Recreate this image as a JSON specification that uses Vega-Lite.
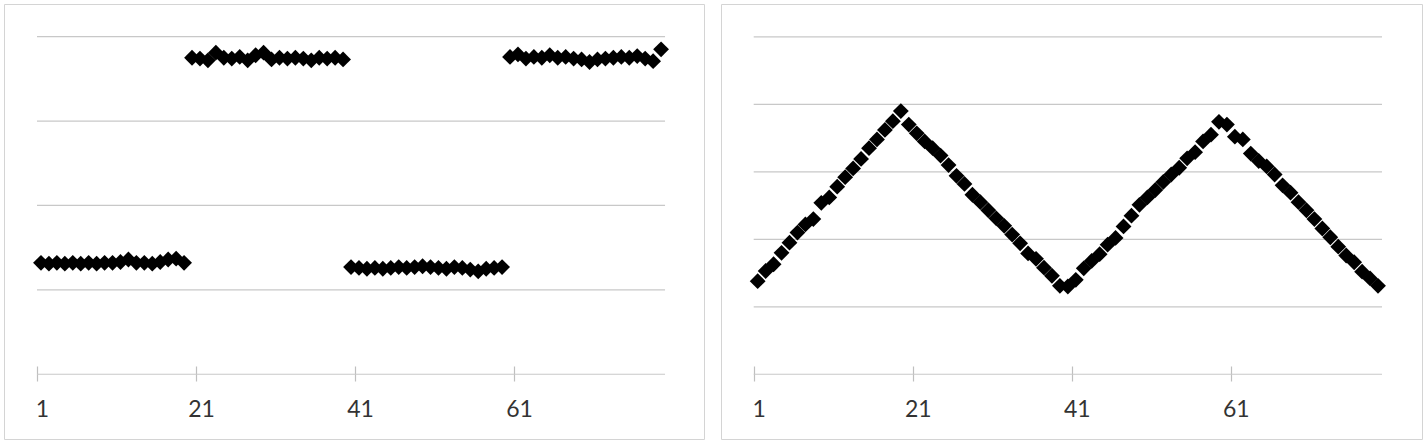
{
  "$schema": "https://vega.github.io/schema/vega-lite/v6.json",
  "padding": {"left": 3, "top": 3, "right": 0, "bottom": 0},
  "spacing": 15,
  "background": "white",
  "config": {
    "view": {"stroke": "#d4d4d4", "strokeWidth": 1},
    "axis": {"labelFont": "Lato", "labelFontSize": 23, "labelColor": "#333333"}
  },
  "datasets": {
    "pts": [
      {"x": 1, "a": 1.32, "b": 1.38}, {"x": 2, "a": 1.31, "b": 1.53}, {"x": 3, "a": 1.32, "b": 1.63},
      {"x": 4, "a": 1.31, "b": 1.80}, {"x": 5, "a": 1.32, "b": 1.95}, {"x": 6, "a": 1.31, "b": 2.10},
      {"x": 7, "a": 1.32, "b": 2.22}, {"x": 8, "a": 1.31, "b": 2.30}, {"x": 9, "a": 1.32, "b": 2.54},
      {"x": 10, "a": 1.32, "b": 2.62}, {"x": 11, "a": 1.33, "b": 2.78}, {"x": 12, "a": 1.36, "b": 2.92},
      {"x": 13, "a": 1.32, "b": 3.05}, {"x": 14, "a": 1.32, "b": 3.19}, {"x": 15, "a": 1.31, "b": 3.35},
      {"x": 16, "a": 1.33, "b": 3.48}, {"x": 17, "a": 1.36, "b": 3.62}, {"x": 18, "a": 1.37, "b": 3.75},
      {"x": 19, "a": 1.32, "b": 3.90}, {"x": 20, "a": 3.75, "b": 3.70}, {"x": 21, "a": 3.74, "b": 3.57},
      {"x": 22, "a": 3.72, "b": 3.45}, {"x": 23, "a": 3.81, "b": 3.35}, {"x": 24, "a": 3.75, "b": 3.24},
      {"x": 25, "a": 3.74, "b": 3.10}, {"x": 26, "a": 3.76, "b": 2.94}, {"x": 27, "a": 3.72, "b": 2.82},
      {"x": 28, "a": 3.78, "b": 2.66}, {"x": 29, "a": 3.81, "b": 2.55}, {"x": 30, "a": 3.73, "b": 2.43},
      {"x": 31, "a": 3.75, "b": 2.31}, {"x": 32, "a": 3.74, "b": 2.20}, {"x": 33, "a": 3.75, "b": 2.07},
      {"x": 34, "a": 3.74, "b": 1.94}, {"x": 35, "a": 3.72, "b": 1.79}, {"x": 36, "a": 3.75, "b": 1.71},
      {"x": 37, "a": 3.74, "b": 1.58}, {"x": 38, "a": 3.75, "b": 1.46}, {"x": 39, "a": 3.73, "b": 1.31},
      {"x": 40, "a": 1.27, "b": 1.30}, {"x": 41, "a": 1.26, "b": 1.40}, {"x": 42, "a": 1.25, "b": 1.57},
      {"x": 43, "a": 1.26, "b": 1.68}, {"x": 44, "a": 1.25, "b": 1.78}, {"x": 45, "a": 1.26, "b": 1.92},
      {"x": 46, "a": 1.27, "b": 2.02}, {"x": 47, "a": 1.26, "b": 2.19}, {"x": 48, "a": 1.27, "b": 2.35},
      {"x": 49, "a": 1.28, "b": 2.51}, {"x": 50, "a": 1.27, "b": 2.62}, {"x": 51, "a": 1.26, "b": 2.73},
      {"x": 52, "a": 1.25, "b": 2.85}, {"x": 53, "a": 1.27, "b": 2.96}, {"x": 54, "a": 1.26, "b": 3.06},
      {"x": 55, "a": 1.24, "b": 3.20}, {"x": 56, "a": 1.22, "b": 3.29}, {"x": 57, "a": 1.25, "b": 3.45},
      {"x": 58, "a": 1.26, "b": 3.55}, {"x": 59, "a": 1.27, "b": 3.74}, {"x": 60, "a": 3.76, "b": 3.70},
      {"x": 61, "a": 3.79, "b": 3.52}, {"x": 62, "a": 3.74, "b": 3.48}, {"x": 63, "a": 3.76, "b": 3.27},
      {"x": 64, "a": 3.75, "b": 3.16}, {"x": 65, "a": 3.78, "b": 3.08}, {"x": 66, "a": 3.75, "b": 2.96},
      {"x": 67, "a": 3.76, "b": 2.80}, {"x": 68, "a": 3.74, "b": 2.69}, {"x": 69, "a": 3.73, "b": 2.55},
      {"x": 70, "a": 3.70, "b": 2.43}, {"x": 71, "a": 3.73, "b": 2.30}, {"x": 72, "a": 3.74, "b": 2.16},
      {"x": 73, "a": 3.75, "b": 2.03}, {"x": 74, "a": 3.76, "b": 1.89}, {"x": 75, "a": 3.75, "b": 1.76},
      {"x": 76, "a": 3.77, "b": 1.66}, {"x": 77, "a": 3.74, "b": 1.52}, {"x": 78, "a": 3.71, "b": 1.42},
      {"x": 79, "a": 3.85, "b": 1.31}
    ],
    "gridL": [{"g": 0}, {"g": 1}, {"g": 2}, {"g": 3}, {"g": 4}],
    "gridR": [{"g": 0}, {"g": 1}, {"g": 2}, {"g": 3}, {"g": 4}, {"g": 5}]
  },
  "hconcat": [
    {
      "width": 700,
      "height": 435,
      "layer": [
        {
          "data": {"name": "gridL"},
          "mark": {"type": "rule", "color": "#c8c8c8", "strokeWidth": 1.2},
          "encoding": {
            "y": {"field": "g", "type": "quantitative", "scale": {"domain": [-0.767, 4.387], "nice": false, "zero": false}, "axis": null},
            "x": {"datum": 0.5, "type": "quantitative"},
            "x2": {"datum": 79.5}
          }
        },
        {
          "data": {"name": "pts"},
          "mark": {"type": "point", "shape": "diamond", "filled": true, "color": "black", "opacity": 1, "size": 250},
          "encoding": {
            "x": {
              "field": "x", "type": "quantitative",
              "scale": {"domain": [-3.651, 84.40], "nice": false, "zero": false},
              "axis": {"values": [1, 21, 41, 61], "format": "d", "title": null, "domain": false, "grid": false,
                       "offset": -73, "tickSize": 15, "tickColor": "#bfbfbf", "tickWidth": 1.2,
                       "tickOffset": -4, "labelOffset": 5, "labelPadding": 35, "labelBaseline": "alphabetic", "labelFlush": false}
            },
            "y": {"field": "a", "type": "quantitative"}
          }
        }
      ]
    },
    {
      "width": 701,
      "height": 435,
      "layer": [
        {
          "data": {"name": "gridR"},
          "mark": {"type": "rule", "color": "#c8c8c8", "strokeWidth": 1.2},
          "encoding": {
            "y": {"field": "g", "type": "quantitative", "scale": {"domain": [-0.959, 5.486], "nice": false, "zero": false}, "axis": null},
            "x": {"datum": 0.5, "type": "quantitative"},
            "x2": {"datum": 79.5}
          }
        },
        {
          "data": {"name": "pts"},
          "mark": {"type": "point", "shape": "diamond", "filled": true, "color": "black", "opacity": 1, "size": 250},
          "encoding": {
            "x": {
              "field": "x", "type": "quantitative",
              "scale": {"domain": [-3.612, 84.53], "nice": false, "zero": false},
              "axis": {"values": [1, 21, 41, 61], "format": "d", "title": null, "domain": false, "grid": false,
                       "offset": -73, "tickSize": 15, "tickColor": "#bfbfbf", "tickWidth": 1.2,
                       "tickOffset": -4, "labelOffset": 5, "labelPadding": 35, "labelBaseline": "alphabetic", "labelFlush": false}
            },
            "y": {"field": "b", "type": "quantitative"}
          }
        }
      ]
    }
  ]
}
